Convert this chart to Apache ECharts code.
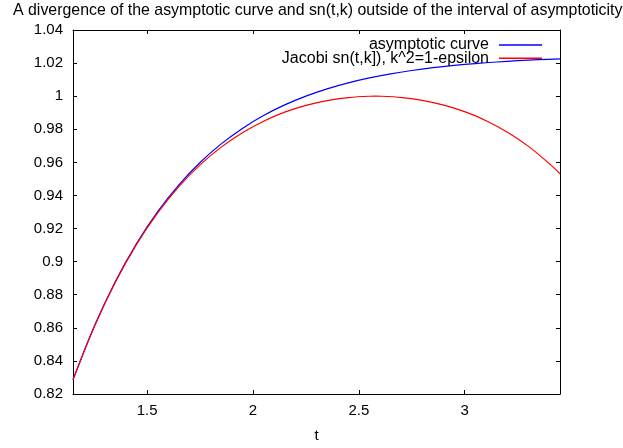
<!DOCTYPE html>
<html>
<head>
<meta charset="utf-8">
<script src="https://cdn.jsdelivr.net/npm/echarts@6/dist/echarts.min.js"></script>
<style>html,body{margin:0;padding:0;background:#fff}#c{width:623px;height:448px}</style>
</head>
<body>
<div id="c"></div>
<script>
const titleText = 'A divergence of the asymptotic curve and sn(t,k) outside of the interval of asymptoticity';
const xTicks = [1.5, 2, 2.5, 3];
const seriesNames = ['asymptotic curve', 'Jacobi sn(t,k]), k^2=1-epsilon'];
const tBlue = [1.15,1.25,1.35,1.45,1.55,1.65,1.75,1.85,1.95,2.05,2.15,2.25,2.35,2.45,2.55,2.65,2.75,2.85,2.95,3.05,3.15,3.25,3.35,3.45];
const blueVals = [0.82867,0.86073,0.88794,0.91092,0.93024,0.94642,0.95993,0.97118,0.98054,0.98829,0.99472,1.00003,1.00442,1.00805,1.01104,1.01351,1.01554,1.01722,1.01860,1.01973,1.02067,1.02144,1.02207,1.02259];
const tRed = [1.15,1.25,1.35,1.45,1.55,1.65,1.75,1.85,1.95,2.05,2.15,2.25,2.35,2.45,2.55,2.578,2.606,2.706,2.806,2.906,3.006,3.106,3.206,3.306,3.406,3.45];
const redVals = [0.82855,0.86051,0.88760,0.91040,0.92948,0.94536,0.95847,0.96922,0.97793,0.98490,0.99034,0.99445,0.99736,0.99918,0.99996,1.0,0.99996,0.99918,0.99736,0.99445,0.99034,0.98490,0.97793,0.96922,0.95847,0.95310];

const FONT = '"Liberation Sans", Arial, Helvetica, sans-serif';
const chart = echarts.init(document.getElementById('c'), null, {renderer: 'canvas'});
const xBase = {
  type: 'value', min: 1.15, max: 3.45,
  splitLine: {show: false},
  axisLine: {show: true, onZero: false, lineStyle: {color: '#000', width: 1}},
  axisTick: {show: true, inside: true, length: 4, customValues: xTicks, lineStyle: {color: '#000', width: 1}},
};
const yBase = {
  type: 'value', min: 0.82, max: 1.04, interval: 0.02,
  splitLine: {show: false},
  axisLine: {show: true, onZero: false, lineStyle: {color: '#000', width: 1}},
  axisTick: {show: true, inside: true, length: 4, lineStyle: {color: '#000', width: 1}},
};
chart.setOption({
  animation: false,
  backgroundColor: '#fff',
  title: {text: titleText, left: 8, top: -2,
    textStyle: {fontFamily: FONT, fontSize: 15.9, fontWeight: 'normal', color: '#000'}},
  legend: {
    right: 76, top: 32, orient: 'vertical', align: 'right', selectedMode: false,
    itemWidth: 43, itemHeight: 1.5, itemGap: -2.7, icon: 'rect',
    textStyle: {fontFamily: FONT, fontSize: 16, color: '#000', lineHeight: 13, padding: [0, 5, 0, 0]},
    data: seriesNames
  },
  grid: {left: 73, right: 63, top: 30, bottom: 53},
  xAxis: [
    Object.assign({}, xBase, {position: 'bottom', name: 't', nameLocation: 'middle', nameGap: 34,
      nameTextStyle: {fontFamily: FONT, fontSize: 15, color: '#000'},
      axisLabel: {show: true, customValues: xTicks, margin: 9, fontFamily: FONT, fontSize: 15, color: '#000'}}),
    Object.assign({}, xBase, {position: 'top', axisLabel: {show: false}})
  ],
  yAxis: [
    Object.assign({}, yBase, {position: 'left',
      axisLabel: {show: true, margin: 10, fontFamily: FONT, fontSize: 15, color: '#000',
        formatter: v => String(+v.toFixed(2))}}),
    Object.assign({}, yBase, {position: 'right', axisLabel: {show: false}})
  ],
  series: [
    {name: seriesNames[0], type: 'line', xAxisIndex: 0, yAxisIndex: 0, showSymbol: false, smooth: 0.3,
      data: tBlue.map((t, i) => [t, blueVals[i]]),
      itemStyle: {color: '#0000ff'}, lineStyle: {color: '#0000ff', width: 1.2}},
    {name: seriesNames[1], type: 'line', xAxisIndex: 0, yAxisIndex: 0, showSymbol: false, smooth: 0.3,
      data: tRed.map((t, i) => [t, redVals[i]]),
      itemStyle: {color: '#ff0000'}, lineStyle: {color: '#ff0000', width: 1.2}}
  ]
});
</script>
</body>
</html>
